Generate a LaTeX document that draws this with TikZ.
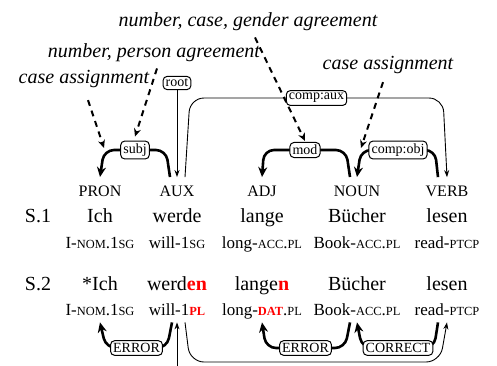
\documentclass[tikz,border=0pt]{standalone}
\usepackage{fontspec}
\setmainfont{Liberation Serif}
\usetikzlibrary{arrows.meta}
\newcommand{\smc}[1]{{\fontsize{6.2pt}{7pt}\selectfont #1}}
\newcommand{\bad}[1]{\textcolor{red}{\textbf{#1}}}

\begin{document}
\begin{tikzpicture}[x=0.5pt, y=-0.5pt,
  tag/.style = {font=\fontsize{8pt}{9pt}\selectfont, anchor=base, inner xsep=0pt, inner ysep=4pt},
  word/.style = {font=\fontsize{10pt}{12pt}\selectfont, anchor=base, inner sep=0pt},
  gloss/.style = {font=\fontsize{8.5pt}{10pt}\selectfont, anchor=base, inner xsep=0pt, inner ysep=3.5pt, text depth=0pt},
  lab/.style = {draw, fill=white, line width=0.5pt, rounded corners=2pt, font=\fontsize{7pt}{8pt}\selectfont, inner sep=1.3pt},
  note/.style = {font=\fontsize{10pt}{12pt}\selectfont\itshape, inner sep=1pt},
  dep/.style = {line width=1.3pt, rounded corners=5pt, -{Stealth[length=5pt,width=4.5pt]}},
  arc/.style = {line width=0.45pt, rounded corners=7pt, -{Stealth[length=3.5pt,width=2.5pt]}},
  hint/.style = {line width=1pt, dash pattern=on 3pt off 2.5pt, -{Stealth[length=4pt,width=3.5pt]}}]
\useasboundingbox (0,0) rectangle (497,365);

\node[tag] (pron) at (100,196) {PRON};
\node[tag] (aux) at (177,196) {AUX};
\node[tag] (adj) at (262,196) {ADJ};
\node[tag] (noun) at (357,196) {NOUN};
\node[tag] (verb) at (447,196) {VERB};

\node[word] (s1) at (38,222) {S.1};
\node[word] (w11) at (100,222) {Ich};
\node[word] (w12) at (177,222) {werde};
\node[word] (w13) at (262,222) {lange};
\node[word] (w14) at (357,222) {Bücher};
\node[word] (w15) at (447,222) {lesen};

\node[gloss] (g11) at (100,248) {I-\smc{NOM}.1\smc{SG}};
\node[gloss] (g12) at (177,248) {will-1\smc{SG}};
\node[gloss] (g13) at (262,248) {long-\smc{ACC}.\smc{PL}};
\node[gloss] (g14) at (357,248) {Book-\smc{ACC}.\smc{PL}};
\node[gloss] (g15) at (447,248) {read-\smc{PTCP}};

\node[word] (s2) at (38,290) {S.2};
\node[word] (w21) at (100,290) {*Ich};
\node[word] (w22) at (177,290) {werd\bad{en}};
\node[word] (w23) at (262,290) {lange\bad{n}};
\node[word] (w24) at (357,290) {Bücher};
\node[word] (w25) at (447,290) {lesen};

\node[gloss] (g21) at (100,315) {I-\smc{NOM}.1\smc{SG}};
\node[gloss] (g22) at (177,315) {will-1\smc{\bad{PL}}};
\node[gloss] (g23) at (262,315) {long-\smc{\bad{DAT}}.\smc{PL}};
\node[gloss] (g24) at (357,315) {Book-\smc{ACC}.\smc{PL}};
\node[gloss] (g25) at (447,315) {read-\smc{PTCP}};

\node[lab] (root) at (177,83) {root};
\draw[arc] (root) -- (aux);
\draw[arc] ([xshift=4pt]aux.north) -- (190,98) -- node[lab] (caux) {comp:aux} (443,98) -- (verb.north);
\draw[dep] ([xshift=-3.5pt]aux.north) -- (166,150) -- node[lab] (subj) {subj} (104,150) coordinate (subjc) -- (pron.north);
\draw[dep] ([xshift=-3.5pt]noun.north) -- (346,150) -- node[lab] (mod) {mod} (264,150) -- (adj.north);
\draw[dep] ([xshift=-4.5pt]verb.north) -- (435,150) -- node[lab] (cobj) {comp:obj} (361,150) coordinate (cobjc) -- (noun.north);

\node[note] (ncg) at (248,22) {number, case, gender agreement};
\node[note] (npa) at (154,53) {number, person agreement};
\node[note] (ca1) at (84,79) {case assignment};
\node[note] (ca2) at (388,65) {case assignment};
\draw[hint] ([xshift=2pt,yshift=-5pt]ca1.south) -- ([yshift=1pt]subjc);
\draw[hint] ([xshift=1.5pt,yshift=-2pt]npa.south) -- ([yshift=2pt]subj.north);
\draw[hint] ([xshift=3.5pt,yshift=-2pt]ncg.south) -- ([yshift=0.5pt]mod.north);
\draw[hint] ([xshift=-2.5pt,yshift=-3pt]ca2.south) -- ([yshift=1pt]cobjc);

\draw[dep] ([xshift=-2.5pt]g22.south) -- (167,348) -- node[lab] (err1) {ERROR} (106,348) -- (g21.south);
\draw[dep] ([xshift=-3.5pt]g24.south) -- (345,348) -- node[lab] (err2) {ERROR} (266,348) -- (g23.south);
\draw[dep] ([xshift=-4.5pt]g25.south) -- (434,348) -- node[lab] (corr) {CORRECT} (362,348) -- (g24.south);
\coordinate (base) at (177,366);
\draw[arc] (base) -- (g22);
\draw[arc] ([xshift=4pt]g22.south) -- (190,362) -- (440,362) -- (g25.south);
\end{tikzpicture}
\end{document}
